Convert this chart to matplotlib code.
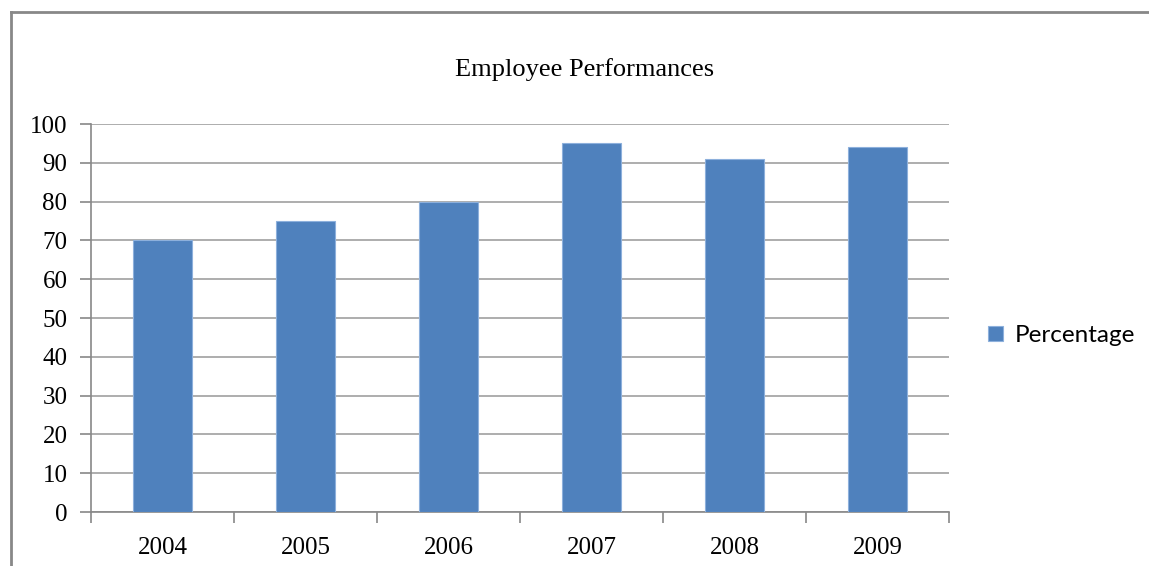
import matplotlib.pyplot as plt
from matplotlib.lines import Line2D
import numpy as np

# Yearly performance scores
years = ['2004', '2005', '2006', '2007', '2008', '2009']
percentage = [70, 75, 80, 95, 91, 94]

fig = plt.figure(figsize=(11.49, 5.66), dpi=100)
ax = fig.add_axes([0.0792, 0.0954, 0.7468, 0.6855])

x = np.arange(len(years))
ax.bar(x, percentage, width=0.41, color='#4F81BD', edgecolor='#8DB0DC',
       linewidth=0.8, label='Percentage', zorder=3)

ax.set_xlim(-0.5, len(years) - 0.5)
ax.set_ylim(0, 100)
ax.set_yticks(range(0, 101, 10))
ax.set_xticks(x)
ax.set_xticklabels(years)
ax.set_xticks(np.arange(-0.5, len(years), 1.0), minor=True)

serif = 'Liberation Serif'
for lbl in ax.get_xticklabels() + ax.get_yticklabels():
    lbl.set_fontfamily(serif)
    lbl.set_fontsize(18)

ax.tick_params(axis='x', which='major', length=0, pad=18)
ax.tick_params(axis='x', which='minor', length=8, color='#888888', width=1.2)
ax.tick_params(axis='y', length=8, color='#888888', width=1.2, pad=9)

ax.grid(axis='y', color='#A0A0A0', linewidth=1.2, zorder=0)
for side in ['top', 'right']:
    ax.spines[side].set_visible(False)
for side in ['left', 'bottom']:
    ax.spines[side].set_color('#888888')
    ax.spines[side].set_linewidth(1.2)

fig.text(585 / 1149, 1 - 70 / 566, 'Employee Performances', fontfamily=serif,
         fontsize=19, ha='center', va='center')

ax.legend(loc='center left', bbox_to_anchor=(1.02, 0.455), frameon=False,
          prop={'family': 'Lato', 'size': 17.5}, handlelength=0.6,
          handleheight=0.6, handletextpad=0.5)

# outer frame on the left and top edges
fig.add_artist(Line2D([11 / 1149, 11 / 1149], [0, 1 - 12 / 566],
                      transform=fig.transFigure, color='#888888', lw=2))
fig.add_artist(Line2D([11 / 1149, 1], [1 - 12 / 566, 1 - 12 / 566],
                      transform=fig.transFigure, color='#888888', lw=2))

fig.savefig('out.png', dpi=100)
